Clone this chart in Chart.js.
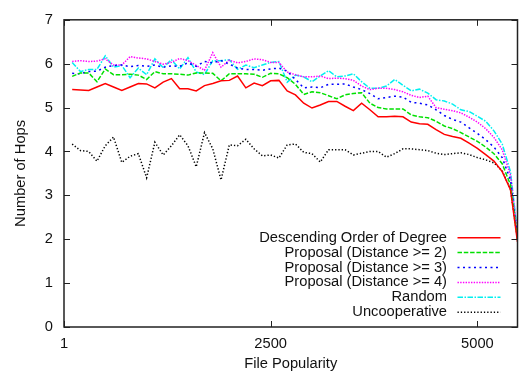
<!DOCTYPE html>
<html>
<head>
<meta charset="utf-8">
<title>Number of Hops x File Popularity</title>
<script src="https://cdn.jsdelivr.net/npm/chart.js@4.4.1/dist/chart.umd.min.js"></script>
<style>
    html, body { margin: 0; padding: 0; background: #fff; }
    canvas { display: block; }
</style>
</head>
<body>
<canvas id="graficoSaltos" width="519" height="376"></canvas>
<script>
// ==================== DADOS ====================
// Popularidade do arquivo (eixo x)
const popularidade = [
    100, 200, 300, 400, 500, 600, 700, 800, 900, 1000,
    1100, 1200, 1300, 1400, 1500, 1600, 1700, 1800, 1900, 2000,
    2100, 2200, 2300, 2400, 2500, 2600, 2700, 2800, 2900, 3000,
    3100, 3200, 3300, 3400, 3500, 3600, 3700, 3800, 3900, 4000,
    4100, 4200, 4300, 4400, 4500, 4600, 4700, 4800, 4900, 5000,
    5100, 5200, 5300, 5400,
    5485
];

const ticksX = [1, 2500, 5000];
const ticksY = [0, 1, 2, 3, 4, 5, 6, 7];

// Número de saltos por estratégia
const grauDescendente = [
    5.41, 5.40, 5.39, 5.47, 5.55, 5.47, 5.39, 5.47, 5.55, 5.54,
    5.45, 5.58, 5.66, 5.43, 5.43, 5.38, 5.50, 5.55, 5.61, 5.62,
    5.72, 5.45, 5.56, 5.50, 5.61, 5.62, 5.38, 5.29, 5.10, 4.99,
    5.06, 5.14, 5.14, 5.03, 4.93, 5.10, 4.95, 4.79, 4.79, 4.80,
    4.79, 4.67, 4.63, 4.62, 4.50, 4.39, 4.34, 4.30, 4.19, 4.07,
    3.93, 3.78, 3.54, 3.13,
    1.94
];

const propostaDist2 = [
    5.71, 5.79, 5.79, 5.59, 5.88, 5.75, 5.75, 5.76, 5.74, 5.64,
    5.82, 5.77, 5.77, 5.76, 5.74, 5.79, 5.79, 5.78, 5.61, 5.77,
    5.77, 5.77, 5.76, 5.69, 5.78, 5.77, 5.68, 5.53, 5.30, 5.36,
    5.34, 5.27, 5.20, 5.29, 5.32, 5.34, 5.10, 5.00, 4.97, 4.97,
    4.97, 4.83, 4.79, 4.77, 4.69, 4.58, 4.52, 4.43, 4.33, 4.23,
    4.10, 3.95, 3.72, 3.24,
    2.01
];

const propostaDist3 = [
    5.78, 5.77, 5.82, 5.83, 5.92, 5.96, 5.97, 5.93, 5.96, 5.94,
    5.97, 5.92, 5.95, 5.94, 6.02, 5.94, 6.05, 6.02, 6.07, 5.99,
    5.90, 5.87, 5.87, 5.85, 5.88, 5.90, 5.83, 5.64, 5.45, 5.47,
    5.45, 5.53, 5.53, 5.54, 5.47, 5.41, 5.32, 5.20, 5.23, 5.26,
    5.24, 5.12, 5.10, 5.06, 4.95, 4.82, 4.73, 4.67, 4.54, 4.41,
    4.27, 4.10, 3.86, 3.35,
    2.05
];

const propostaDist4 = [
    6.05, 6.07, 6.05, 6.06, 6.11, 5.97, 5.97, 6.16, 6.13, 6.11,
    6.05, 5.99, 6.03, 6.12, 6.07, 5.96, 5.85, 6.25, 5.92, 6.08,
    6.02, 6.05, 6.11, 6.09, 6.03, 6.03, 5.81, 5.75, 5.70, 5.70,
    5.72, 5.66, 5.67, 5.66, 5.62, 5.49, 5.41, 5.44, 5.44, 5.41,
    5.36, 5.28, 5.23, 5.26, 5.00, 4.96, 4.93, 4.88, 4.78, 4.67,
    4.52, 4.32, 4.04, 3.46,
    2.10
];

const aleatorio = [
    6.03, 5.82, 5.87, 5.87, 6.18, 5.92, 5.96, 5.68, 5.90, 5.75,
    6.11, 5.91, 6.09, 5.88, 6.14, 5.81, 5.75, 6.07, 6.07, 6.09,
    5.87, 5.97, 5.91, 5.97, 6.03, 6.05, 5.58, 5.74, 5.70, 5.59,
    5.72, 5.84, 5.70, 5.72, 5.77, 5.59, 5.44, 5.44, 5.49, 5.64,
    5.51, 5.38, 5.42, 5.33, 5.18, 5.15, 5.08, 4.95, 4.91, 4.80,
    4.69, 4.47, 4.17, 3.54,
    2.15
];

const naoCooperativo = [
    4.17, 4.02, 4.00, 3.78, 4.13, 4.33, 3.75, 3.89, 3.95, 3.40,
    4.21, 3.92, 4.13, 4.38, 4.13, 3.65, 4.43, 4.06, 3.35, 4.15,
    4.13, 4.28, 4.06, 3.90, 3.92, 3.85, 4.15, 4.17, 3.98, 3.95,
    3.76, 4.04, 4.04, 4.04, 3.92, 3.96, 4.00, 4.00, 3.87, 3.95,
    4.06, 4.06, 4.04, 4.02, 3.96, 3.93, 3.95, 3.97, 3.93, 3.86,
    3.81, 3.74, 3.56, 3.14,
    2.00
];

const rotulos = [
    'Descending Order of Degree',
    'Proposal (Distance >= 2)',
    'Proposal (Distance >= 3)',
    'Proposal (Distance >= 4)',
    'Random',
    'Uncooperative'
];

const FONTE = '"Liberation Sans", Arial, Helvetica, sans-serif';
const COR_TEXTO = '#111';

// Montar pontos {x, y}
function pontos(valores) {
    return popularidade.map((x, i) => ({ x: x, y: valores[i] }));
}

function serie(rotulo, valores, cor, tracejado) {
    return {
        label: rotulo,
        data: pontos(valores),
        borderColor: cor,
        borderWidth: 1.5,
        borderDash: tracejado,
        pointRadius: 0,
        tension: 0,
        fill: false
    };
}

// Moldura com marcas internas (estilo gnuplot)
const pluginMoldura = {
    id: 'moldura',
    afterDatasetsDraw(chart) {
        const { ctx, chartArea: a, scales } = chart;
        ctx.save();
        ctx.setLineDash([]);
        ctx.strokeStyle = '#222';
        ctx.lineWidth = 1;
        ctx.beginPath();
        ticksX.forEach(v => {
            const x = Math.round(scales.x.getPixelForValue(v)) + 0.5;
            ctx.moveTo(x, a.bottom);
            ctx.lineTo(x, a.bottom - 6);
            ctx.moveTo(x, a.top);
            ctx.lineTo(x, a.top + 6);
        });
        ticksY.forEach(v => {
            const y = Math.round(scales.y.getPixelForValue(v)) + 0.5;
            ctx.moveTo(a.left, y);
            ctx.lineTo(a.left + 6, y);
            ctx.moveTo(a.right, y);
            ctx.lineTo(a.right - 6, y);
        });
        ctx.stroke();
        ctx.lineWidth = 1.5;
        ctx.strokeRect(a.left, a.top, a.right - a.left, a.bottom - a.top);
        ctx.restore();
    }
};

// Legenda dentro da área do gráfico, canto inferior direito
const pluginLegenda = {
    id: 'legendaInterna',
    afterDatasetsDraw(chart) {
        const { ctx, chartArea: a } = chart;
        ctx.save();
        ctx.font = '14.7px ' + FONTE;
        ctx.textAlign = 'right';
        ctx.textBaseline = 'middle';
        chart.data.datasets.forEach((ds, i) => {
            const y = a.bottom - 89.3 + i * 14.9;
            ctx.fillStyle = COR_TEXTO;
            ctx.fillText(ds.label, a.right - 70.5, y);
            ctx.strokeStyle = ds.borderColor;
            ctx.lineWidth = ds.borderWidth;
            ctx.setLineDash(ds.borderDash || []);
            ctx.beginPath();
            ctx.moveTo(a.right - 60, y);
            ctx.lineTo(a.right - 17, y);
            ctx.stroke();
        });
        ctx.restore();
    }
};

Chart.defaults.font.family = FONTE;
Chart.defaults.font.size = 14.7;
Chart.defaults.color = COR_TEXTO;

new Chart(document.getElementById('graficoSaltos').getContext('2d'), {
    type: 'line',
    data: {
        datasets: [
            serie(rotulos[0], grauDescendente, '#ff0000', []),
            serie(rotulos[1], propostaDist2, '#00e000', [4.5, 1.8]),
            serie(rotulos[2], propostaDist3, '#0000ff', [2, 3.5]),
            serie(rotulos[3], propostaDist4, '#ff00ff', [1.4, 1.3]),
            serie(rotulos[4], aleatorio, '#00f0f0', [5.5, 1.5, 1.5, 1.5]),
            serie(rotulos[5], naoCooperativo, '#000000', [1.3, 2])
        ]
    },
    options: {
        responsive: false,
        animation: false,
        devicePixelRatio: 1,
        layout: { padding: { top: 13, right: 1.5, left: 0, bottom: 0 } },
        plugins: {
            legend: { display: false },
            tooltip: { enabled: false }
        },
        scales: {
            x: {
                type: 'linear',
                min: 1,
                max: 5485,
                grid: { display: false, drawTicks: false },
                border: { display: false },
                afterBuildTicks: escala => {
                    escala.ticks = ticksX.map(v => ({ value: v }));
                },
                afterFit: escala => { escala.height = 49; },
                ticks: {
                    autoSkip: false,
                    maxRotation: 0,
                    padding: 8,
                    callback: v => String(v)
                },
                title: {
                    display: true,
                    text: 'File Popularity',
                    padding: { top: 0, bottom: 3 }
                }
            },
            y: {
                min: 0,
                max: 7,
                grid: { display: false, drawTicks: false },
                border: { display: false },
                afterBuildTicks: escala => {
                    escala.ticks = ticksY.map(v => ({ value: v }));
                },
                afterFit: escala => { escala.width = 64; },
                ticks: {
                    padding: 11,
                    callback: v => String(v)
                },
                title: {
                    display: true,
                    text: 'Number of Hops',
                    padding: { top: 12.5, bottom: 0 }
                }
            }
        }
    },
    plugins: [pluginMoldura, pluginLegenda]
});
</script>
</body>
</html>
